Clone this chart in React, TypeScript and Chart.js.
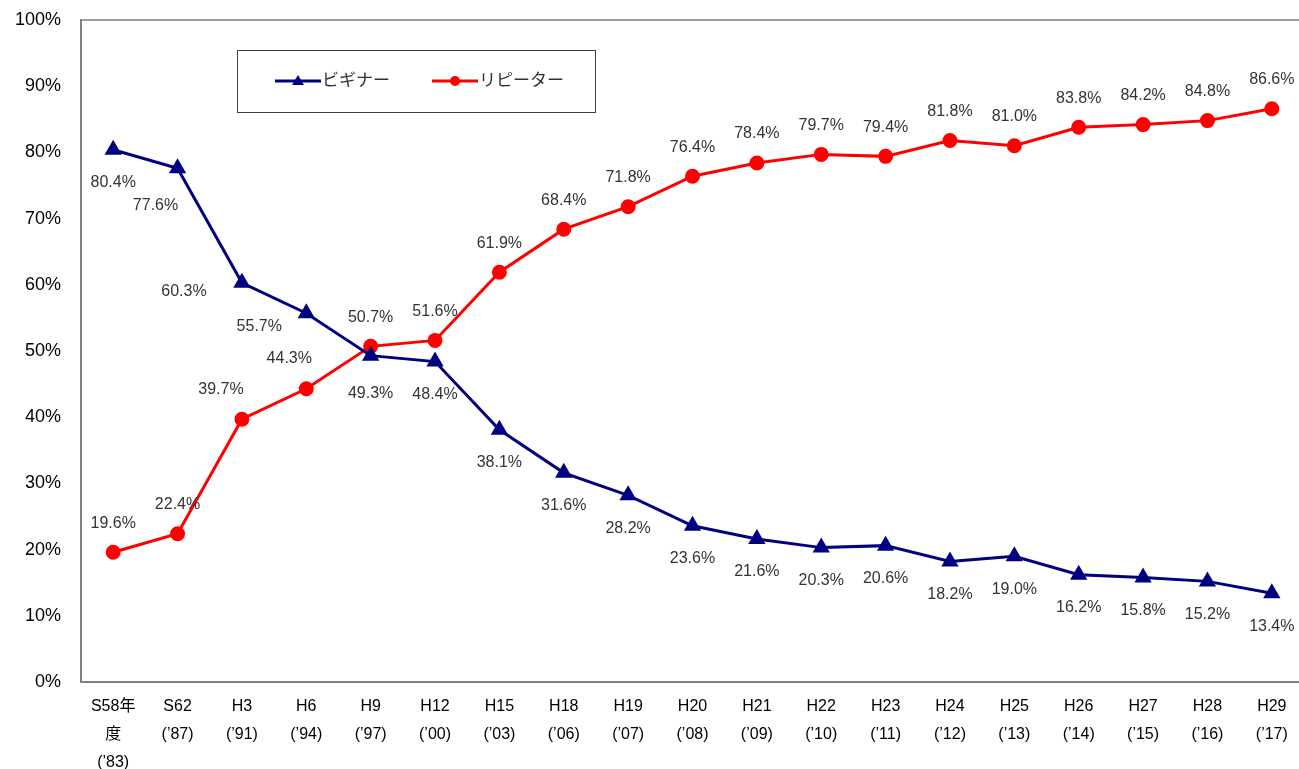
import React, { useEffect, useRef } from "react";
import { Chart, registerables } from "chart.js";

Chart.register(...registerables);

const categories: string[][] = [
  ["S58年", "度", "(’83)"],
  ["S62", "(’87)"],
  ["H3", "(’91)"],
  ["H6", "(’94)"],
  ["H9", "(’97)"],
  ["H12", "(’00)"],
  ["H15", "(’03)"],
  ["H18", "(’06)"],
  ["H19", "(’07)"],
  ["H20", "(’08)"],
  ["H21", "(’09)"],
  ["H22", "(’10)"],
  ["H23", "(’11)"],
  ["H24", "(’12)"],
  ["H25", "(’13)"],
  ["H26", "(’14)"],
  ["H27", "(’15)"],
  ["H28", "(’16)"],
  ["H29", "(’17)"],
];

const beginnerLabel = "ビギナー";
const repeaterLabel = "リピーター";

const beginner = [80.4, 77.6, 60.3, 55.7, 49.3, 48.4, 38.1, 31.6, 28.2, 23.6, 21.6, 20.3, 20.6, 18.2, 19.0, 16.2, 15.8, 15.2, 13.4];
const repeater = [19.6, 22.4, 39.7, 44.3, 50.7, 51.6, 61.9, 68.4, 71.8, 76.4, 78.4, 79.7, 79.4, 81.8, 81.0, 83.8, 84.2, 84.8, 86.6];

const BLUE = "#000080";
const RED = "#FF0000";
const FONT = "'Liberation Sans', Arial, 'Noto Sans CJK JP', sans-serif";

// label placement tweaks (style): [dx, dy] relative to the point
const blueLabelShift: Record<number, [number, number]> = {
  1: [-22, 37],
  2: [-58, 9],
  3: [-47, 13],
  4: [0, 38],
};
const redLabelShift: Record<number, [number, number]> = {
  2: [-21, -30],
  3: [-17, -30],
};

const decorPlugin = {
  id: "decor",
  afterDatasetsDraw(chart: any) {
    const ctx = chart.ctx as CanvasRenderingContext2D;
    const area = chart.chartArea;
    ctx.save();
    // top border
    ctx.strokeStyle = "#808080";
    ctx.lineWidth = 1.5;
    ctx.beginPath();
    ctx.moveTo(area.left, area.top);
    ctx.lineTo(area.right + 10, area.top);
    ctx.stroke();

    // data labels
    ctx.font = `16px ${FONT}`;
    ctx.fillStyle = "#333";
    ctx.textAlign = "center";
    ctx.textBaseline = "middle";
    chart.data.datasets.forEach((ds: any, di: number) => {
      const meta = chart.getDatasetMeta(di);
      meta.data.forEach((pt: any, i: number) => {
        const v = ds.data[i] as number;
        let dx = 0;
        let dy = di === 0 ? 33 : -29;
        const sh = di === 0 ? blueLabelShift[i] : redLabelShift[i];
        if (sh) {
          dx = sh[0];
          dy = sh[1];
        }
        ctx.fillText(v.toFixed(1) + "%", pt.x + dx, pt.y + dy);
      });
    });

    // legend box
    const bx = 237, by = 50, bw = 358, bh = 62;
    ctx.fillStyle = "#fff";
    ctx.fillRect(bx, by, bw, bh);
    ctx.strokeStyle = "#404040";
    ctx.lineWidth = 1;
    ctx.strokeRect(bx + 0.5, by + 0.5, bw, bh);
    const cy = by + bh / 2;
    const items = [
      { x: 275, color: BLUE, text: chart.data.datasets[0].label, tri: true },
      { x: 432, color: RED, text: chart.data.datasets[1].label, tri: false },
    ];
    items.forEach((it) => {
      ctx.strokeStyle = it.color;
      ctx.fillStyle = it.color;
      ctx.lineWidth = 3;
      ctx.beginPath();
      ctx.moveTo(it.x, cy);
      ctx.lineTo(it.x + 46, cy);
      ctx.stroke();
      const mx = it.x + 23;
      ctx.beginPath();
      if (it.tri) {
        ctx.moveTo(mx, cy - 6);
        ctx.lineTo(mx + 6, cy + 4);
        ctx.lineTo(mx - 6, cy + 4);
        ctx.closePath();
      } else {
        ctx.arc(mx, cy, 5, 0, Math.PI * 2);
      }
      ctx.fill();
      ctx.fillStyle = "#333";
      ctx.font = `17px ${FONT}`;
      ctx.textAlign = "left";
      ctx.textBaseline = "middle";
      ctx.fillText(it.text, it.x + 47, cy);
    });
    ctx.restore();
  },
};

export default function App() {
  const ref = useRef<HTMLCanvasElement | null>(null);
  useEffect(() => {
    if (!ref.current) return;
    const chart = new Chart(ref.current, {
      type: "line",
      data: {
        labels: categories,
        datasets: [
          {
            label: beginnerLabel,
            data: beginner,
            borderColor: BLUE,
            backgroundColor: BLUE,
            borderWidth: 3,
            pointStyle: "triangle",
            pointRadius: 7,
            pointHoverRadius: 7,
            tension: 0,
          },
          {
            label: repeaterLabel,
            data: repeater,
            borderColor: RED,
            backgroundColor: RED,
            borderWidth: 3,
            pointStyle: "circle",
            pointRadius: 6,
            pointHoverRadius: 6,
            tension: 0,
          },
        ],
      },
      options: {
        responsive: false,
        animation: false,
        layout: { padding: { top: 20, right: 0, left: 0, bottom: 0 } },
        plugins: {
          legend: { display: false },
          tooltip: { enabled: false },
        },
        scales: {
          x: {
            offset: true,
            grid: { display: false, drawTicks: false },
            border: { display: true, color: "#808080", width: 2 },
            ticks: {
              color: "#000",
              font: { family: FONT, size: 16, lineHeight: 1.75 },
              padding: 11,
              maxRotation: 0,
              autoSkip: false,
            },
            afterFit: (scale: any) => {
              scale.height = 87;
            },
          },
          y: {
            min: 0,
            max: 100,
            grid: { display: false, drawTicks: false },
            border: { display: true, color: "#808080", width: 2 },
            ticks: {
              stepSize: 10,
              color: "#000",
              font: { family: FONT, size: 18 },
              padding: 20,
              callback: (v: any) => `${v}%`,
            },
            afterFit: (scale: any) => {
              scale.width = 81;
              scale.paddingTop = 0;
              scale.paddingBottom = 0;
            },
          },
        },
      },
      plugins: [decorPlugin],
    });
    return () => chart.destroy();
  }, []);
  return (
    <div
      style={{
        position: "fixed",
        left: 0,
        top: 0,
        width: 1299,
        height: 769,
        overflow: "hidden",
        background: "#fff",
      }}
    >
      <canvas ref={ref} width={1314} height={769} style={{ display: "block" }} />
    </div>
  );
}
